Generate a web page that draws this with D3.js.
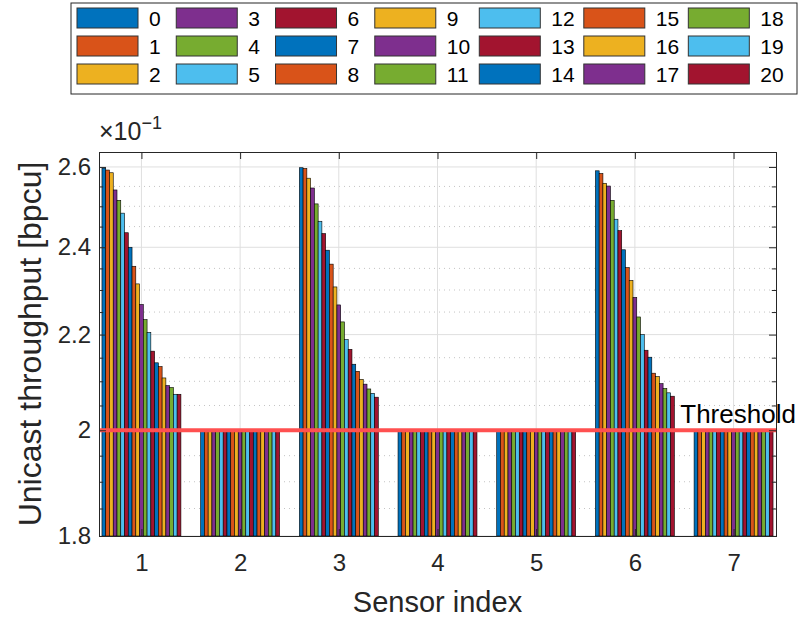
<!DOCTYPE html>
<html>
<head>
<meta charset="utf-8">
<script src="https://cdn.jsdelivr.net/npm/d3@7"></script>
<style>
  body { margin: 0; background: #fff; }
  svg { display: block; font-family: Arial, "Liberation Sans", Helvetica, sans-serif; }
  .tick-label { fill: #262626; font-size: 24px; }
</style>
</head>
<body>
<div id="chart"></div>
<script>
// Unicast throughput per sensor, 21 bar series (0..20), log y axis

const width = 800;
const height = 617;
const margin = { top: 152, right: 24, bottom: 81, left: 99 };

const sensors = [1, 2, 3, 4, 5, 6, 7];
const seriesNames = ["0", "1", "2", "3", "4", "5", "6", "7", "8", "9", "10",
    "11", "12", "13", "14", "15", "16", "17", "18", "19", "20"];
const seriesColors = ["#0072BD", "#D95319", "#EDB120", "#7E2F8E", "#77AC30", "#4DBEEE", "#A2142F"];

// one array per sensor, values for series 0..20
const sensor1Values = [0.2597, 0.2592, 0.2585, 0.2541, 0.2515, 0.2483, 0.2435, 0.2400, 0.2355, 0.2314, 0.2267,
    0.2233, 0.2205, 0.2164, 0.2139, 0.2131, 0.2107, 0.2091, 0.2087, 0.2073, 0.2073];
const sensor2Values = [0.2, 0.2, 0.2, 0.2, 0.2, 0.2, 0.2, 0.2, 0.2, 0.2, 0.2,
    0.2, 0.2, 0.2, 0.2, 0.2, 0.2, 0.2, 0.2, 0.2, 0.2];
const sensor3Values = [0.2598, 0.2596, 0.2571, 0.2546, 0.2506, 0.2463, 0.2433, 0.2393, 0.2360, 0.2307, 0.2266,
    0.2228, 0.2189, 0.2168, 0.2136, 0.2121, 0.2104, 0.2094, 0.2084, 0.2075, 0.2067];
const sensor4Values = [0.2, 0.2, 0.2, 0.2, 0.2, 0.2, 0.2, 0.2, 0.2, 0.2, 0.2,
    0.2, 0.2, 0.2, 0.2, 0.2, 0.2, 0.2, 0.2, 0.2, 0.2];
const sensor5Values = [0.2, 0.2, 0.2, 0.2, 0.2, 0.2, 0.2, 0.2, 0.2, 0.2, 0.2,
    0.2, 0.2, 0.2, 0.2, 0.2, 0.2, 0.2, 0.2, 0.2, 0.2];
const sensor6Values = [0.2590, 0.2583, 0.2558, 0.2551, 0.2515, 0.2468, 0.2440, 0.2394, 0.2352, 0.2322, 0.2283,
    0.2239, 0.2200, 0.2166, 0.2151, 0.2117, 0.2110, 0.2095, 0.2085, 0.2076, 0.2069];
const sensor7Values = [0.2, 0.2, 0.2, 0.2, 0.2, 0.2, 0.2, 0.2, 0.2, 0.2, 0.2,
    0.2, 0.2, 0.2, 0.2, 0.2, 0.2, 0.2, 0.2, 0.2, 0.2];

const yTickValues = [0.18, 0.2, 0.22, 0.24, 0.26];
const yTickLabels = ["1.8", "2", "2.2", "2.4", "2.6"];
const thresholdValue = 0.2;

const valuesBySensor = [sensor1Values, sensor2Values, sensor3Values, sensor4Values,
    sensor5Values, sensor6Values, sensor7Values];

// flat table of bars
const bars = [];
sensors.forEach((s, i) => {
    seriesNames.forEach((name, j) => {
        bars.push({ sensor: s, series: name, index: j, value: valuesBySensor[i][j] });
    });
});

// ---------- SVG + scales ----------

const svg = d3.select("#chart")
    .append("svg")
    .attr("width", width)
    .attr("height", height);

const plotLeft = margin.left;
const plotRight = width - margin.right;
const plotTop = margin.top;
const plotBottom = height - margin.bottom;

const xScale = d3.scaleLinear()
    .domain([0.57, 7.43])
    .range([plotLeft, plotRight]);

// bars inside a group, in x data units
const innerScale = d3.scaleBand()
    .domain(seriesNames)
    .range([-0.4, 0.4]);

const yScale = d3.scaleLog()
    .domain([0.18, 0.2639])
    .range([plotBottom, plotTop]);

const minorTicks = d3.range(0.185, 0.2626, 0.005).filter(v => !yTickValues.some(t => Math.abs(t - v) < 1e-6));

// ---------- grid ----------

const grid = svg.append("g");

grid.selectAll(".minor-grid")
    .data(minorTicks)
    .join("line")
    .attr("x1", plotLeft).attr("x2", plotRight)
    .attr("y1", d => yScale(d)).attr("y2", d => yScale(d))
    .attr("stroke", "#c4c4c4")
    .attr("stroke-width", 1)
    .attr("stroke-dasharray", "1,4");

grid.selectAll(".ygrid")
    .data(yTickValues)
    .join("line")
    .attr("x1", plotLeft).attr("x2", plotRight)
    .attr("y1", d => yScale(d)).attr("y2", d => yScale(d))
    .attr("stroke", "#dfdfdf")
    .attr("stroke-width", 1);

grid.selectAll(".xgrid")
    .data(sensors)
    .join("line")
    .attr("x1", d => xScale(d)).attr("x2", d => xScale(d))
    .attr("y1", plotTop).attr("y2", plotBottom)
    .attr("stroke", "#dfdfdf")
    .attr("stroke-width", 1);

// ---------- bars ----------

svg.append("g")
    .selectAll("rect")
    .data(bars)
    .join("rect")
    .attr("x", d => xScale(d.sensor + innerScale(d.series)))
    .attr("width", d => xScale(d.sensor + innerScale(d.series) + innerScale.bandwidth()) - xScale(d.sensor + innerScale(d.series)))
    .attr("y", d => yScale(d.value))
    .attr("height", d => plotBottom - yScale(d.value))
    .attr("fill", d => seriesColors[d.index % seriesColors.length])
    .attr("stroke", "#000")
    .attr("stroke-width", 0.6);

// ---------- threshold ----------

svg.append("line")
    .attr("x1", plotLeft).attr("x2", plotRight)
    .attr("y1", yScale(thresholdValue)).attr("y2", yScale(thresholdValue))
    .attr("stroke", "#FF5050")
    .attr("stroke-width", 3.8);

svg.append("text")
    .attr("x", xScale(6.46))
    .attr("y", yScale(thresholdValue) - 7)
    .attr("font-size", 26)
    .attr("fill", "#000")
    .text("Threshold");

// ---------- axes ----------

const axisColor = "#262626";
const tickLen = 7;

const xAxisBottom = d3.axisBottom(xScale).tickValues(sensors).tickSize(-tickLen).tickPadding(18).tickFormat(d3.format("d"));
const xAxisTop = d3.axisTop(xScale).tickValues(sensors).tickSize(-tickLen).tickFormat("");
const yAxisLeft = d3.axisLeft(yScale).tickValues(yTickValues).tickSize(-tickLen).tickPadding(8)
    .tickFormat((d, i) => yTickLabels[i]);
const yAxisRight = d3.axisRight(yScale).tickValues(yTickValues).tickSize(-tickLen).tickFormat("");
const yMinorLeft = d3.axisLeft(yScale).tickValues(minorTicks).tickSize(-tickLen * 0.6).tickFormat("");
const yMinorRight = d3.axisRight(yScale).tickValues(minorTicks).tickSize(-tickLen * 0.6).tickFormat("");

function styleAxis(g) {
    g.selectAll("path").attr("stroke", axisColor).attr("stroke-width", 1);
    g.selectAll("line").attr("stroke", axisColor).attr("stroke-width", 1);
    g.selectAll("text").attr("class", "tick-label").attr("font-family", null).attr("font-size", null);
}

svg.append("g").attr("transform", `translate(0, ${plotBottom})`).call(xAxisBottom).call(styleAxis);
svg.append("g").attr("transform", `translate(0, ${plotTop})`).call(xAxisTop).call(styleAxis);
svg.append("g").attr("transform", `translate(${plotLeft}, 0)`).call(yMinorLeft).call(styleAxis);
svg.append("g").attr("transform", `translate(${plotRight}, 0)`).call(yMinorRight).call(styleAxis);
svg.append("g").attr("transform", `translate(${plotLeft}, 0)`).call(yAxisLeft).call(styleAxis);
svg.append("g").attr("transform", `translate(${plotRight}, 0)`).call(yAxisRight).call(styleAxis);

// exponent label
const expLabel = svg.append("text")
    .attr("x", plotLeft)
    .attr("y", plotTop - 12)
    .attr("fill", axisColor)
    .attr("font-size", 25);
expLabel.append("tspan").text("\u00d710");
expLabel.append("tspan").attr("dy", -11).attr("font-size", 18).text("\u22121");

// axis titles
svg.append("text")
    .attr("x", (plotLeft + plotRight) / 2)
    .attr("y", height - 5)
    .attr("text-anchor", "middle")
    .attr("fill", axisColor)
    .attr("font-size", 29)
    .text("Sensor index");

svg.append("text")
    .attr("transform", `translate(41, ${(plotTop + plotBottom) / 2}) rotate(-90)`)
    .attr("text-anchor", "middle")
    .attr("fill", axisColor)
    .attr("font-size", 32)
    .text("Unicast throughput [bpcu]");

// ---------- legend: 3 rows x 7 columns, column-major ----------

const legend = svg.append("g");
const legendRows = 3;
const swatchW = 61;
const swatchH = 20;
const rowPitch = 28;
const legendFont = 21;

const legendBox = legend.append("rect")
    .attr("fill", "#fff")
    .attr("stroke", "#262626")
    .attr("stroke-width", 1);

const columns = d3.range(Math.ceil(seriesNames.length / legendRows));
let colX = 77;
const legendTop = 8;

columns.forEach(c => {
    const names = seriesNames.slice(c * legendRows, c * legendRows + legendRows);
    let maxW = 0;
    names.forEach((name, r) => {
        const idx = c * legendRows + r;
        const y = legendTop + r * rowPitch;
        legend.append("rect")
            .attr("x", colX).attr("y", y)
            .attr("width", swatchW).attr("height", swatchH)
            .attr("fill", seriesColors[idx % seriesColors.length])
            .attr("stroke", "#333")
            .attr("stroke-width", 1);
        const t = legend.append("text")
            .attr("x", colX + swatchW + 11)
            .attr("y", y + swatchH / 2)
            .attr("dy", "0.36em")
            .attr("font-size", legendFont)
            .attr("fill", "#000")
            .text(name);
        maxW = Math.max(maxW, t.node().getComputedTextLength());
    });
    // MATLAB-like column pitch: label width only partly widens the column
    colX += swatchW + 11 + maxW * 0.45 + 22;
});

legendBox
    .attr("x", 71).attr("y", 3)
    .attr("width", 726)
    .attr("height", 91);
</script>
</body>
</html>
